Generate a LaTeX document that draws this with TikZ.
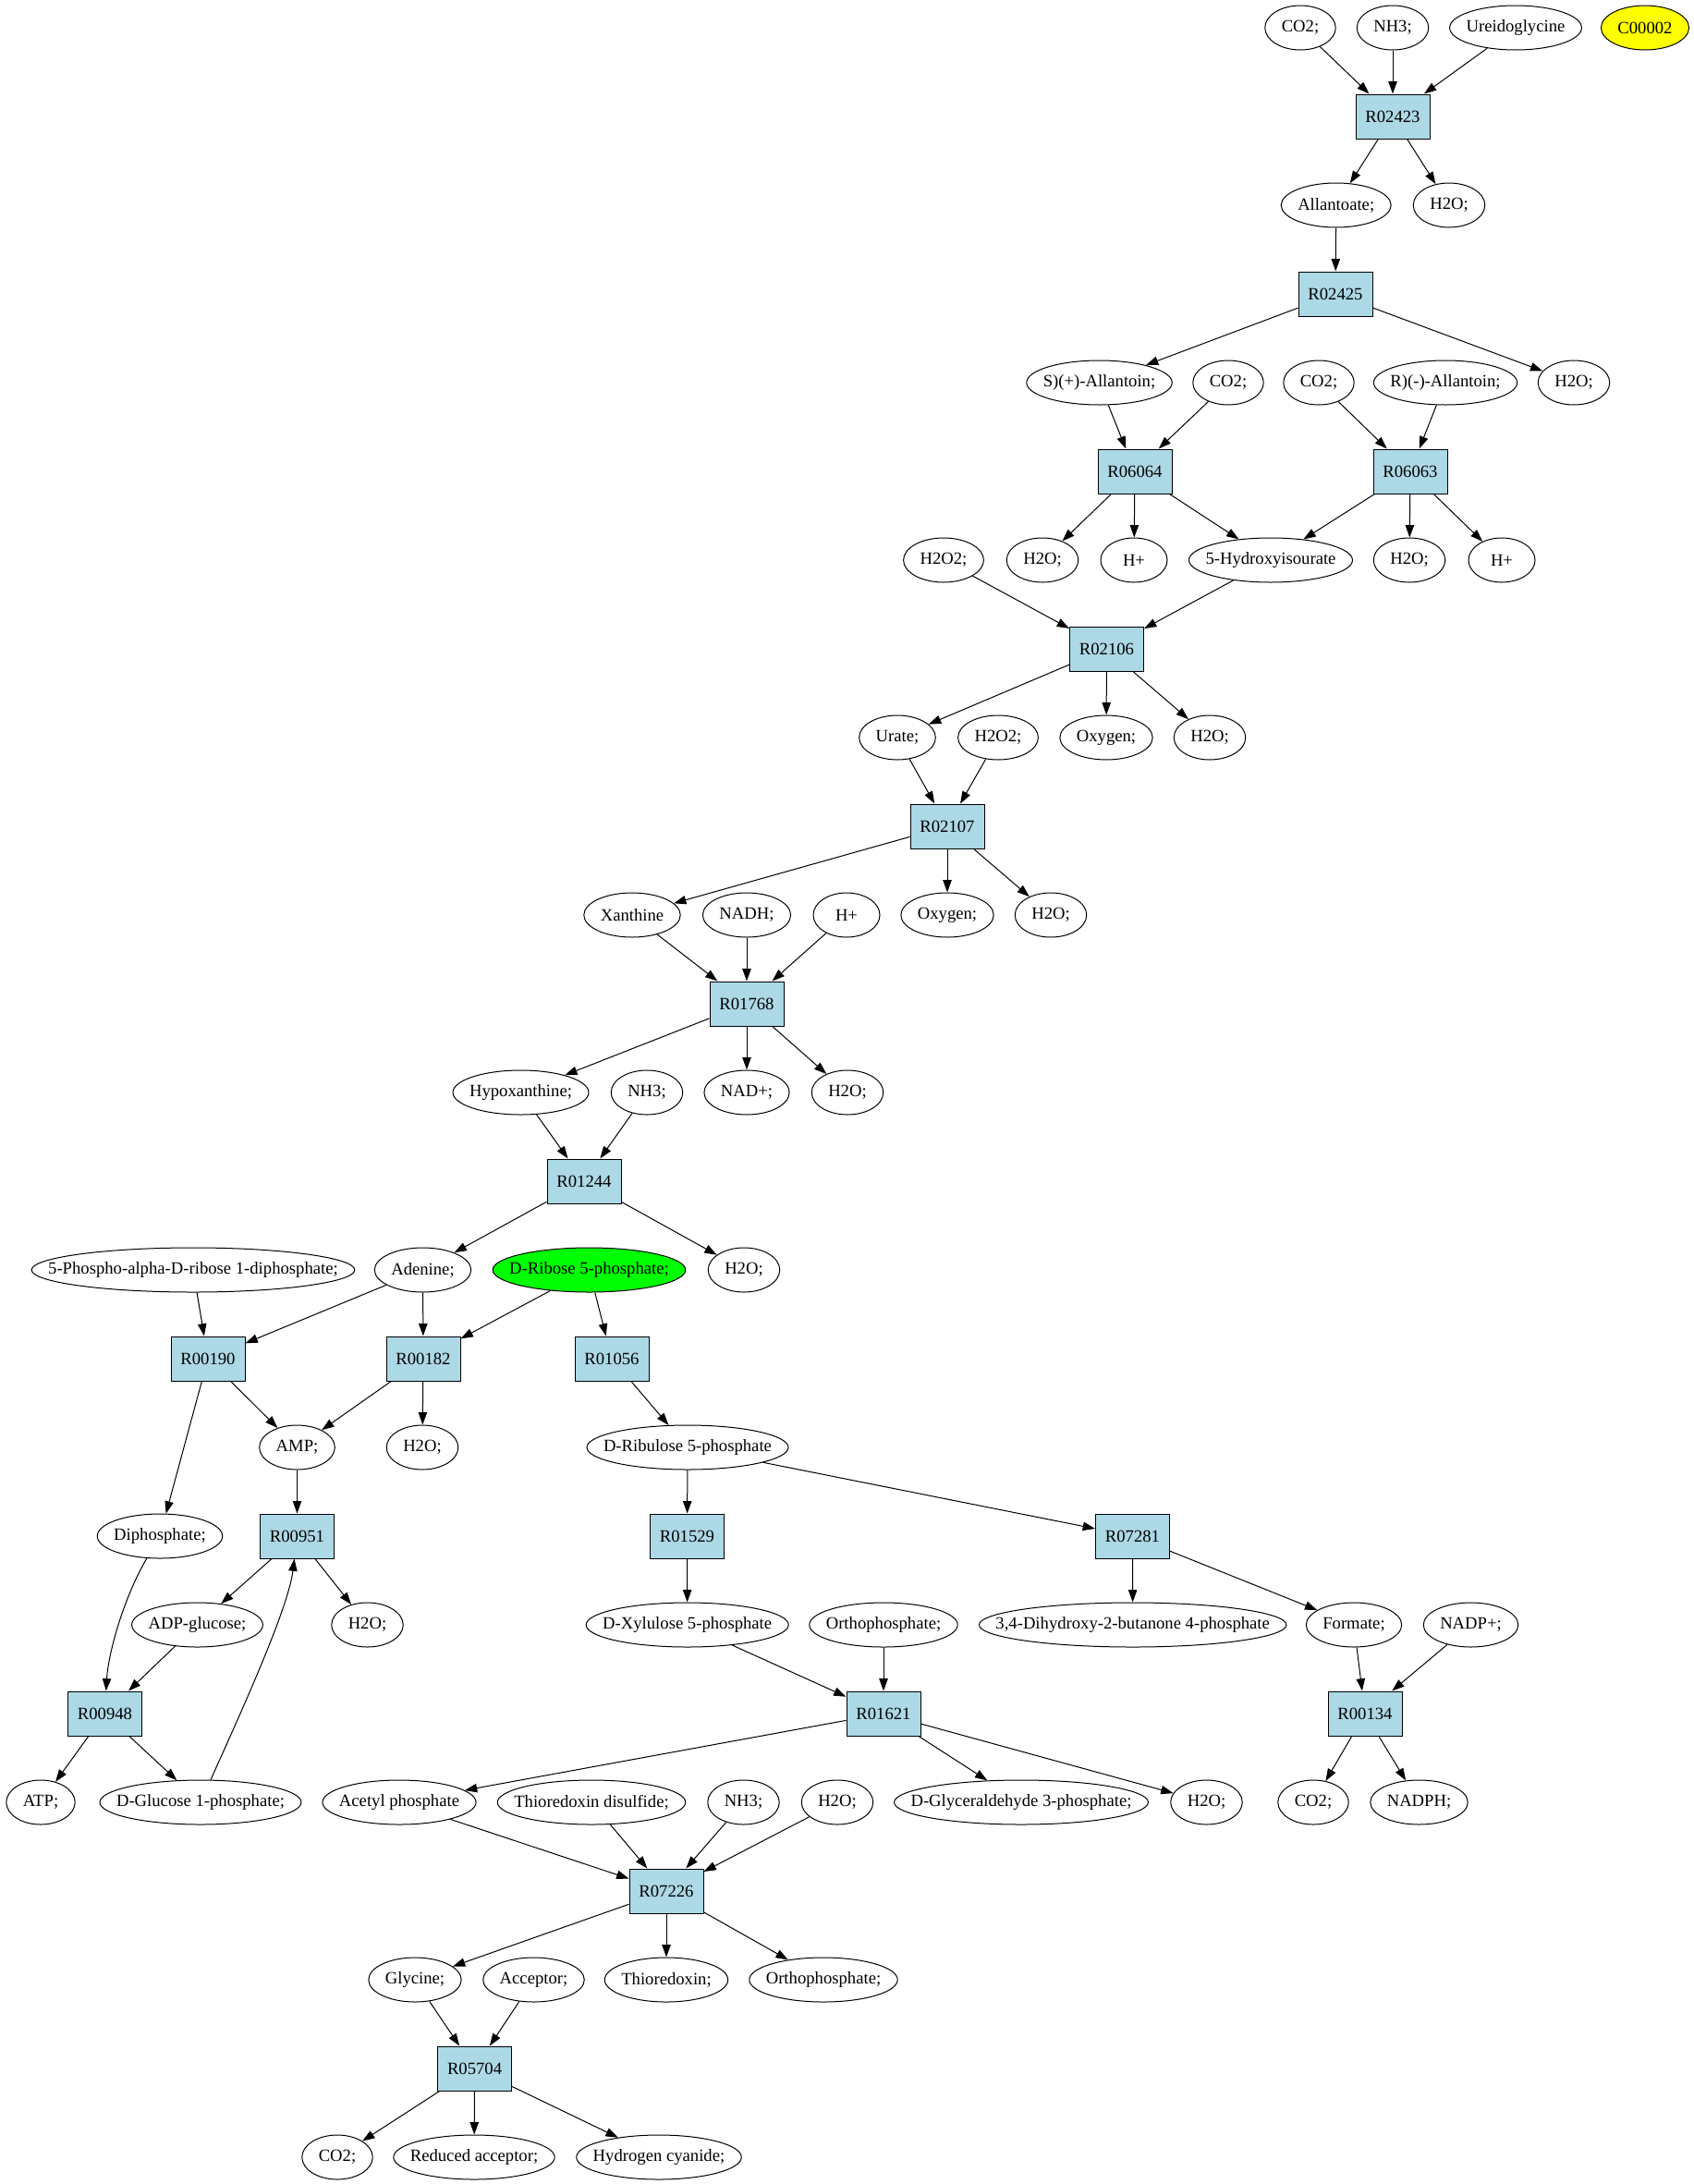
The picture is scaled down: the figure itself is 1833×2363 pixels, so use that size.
\documentclass[tikz,border=0pt]{standalone}
\usepackage{fontspec}
\setmainfont{Liberation Serif}
\usetikzlibrary{arrows.meta,shapes.geometric}
\definecolor{rxnblue}{HTML}{ADD8E6}
\definecolor{cpdyellow}{HTML}{FFFF00}
\definecolor{cpdgreen}{HTML}{00FF00}
\newlength\cpdw
\newlength\cpdwtmp
\newcommand\cpdfont{\fontsize{14pt}{16pt}\selectfont}
% measures the label inside the node (where the font is right) and sets the ellipse width
\newcommand\cpdtext[1]{%
  \settowidth\cpdwtmp{#1}%
  \global\cpdw=\dimexpr\cpdwtmp+27pt\relax
  \makebox[0pt]{#1}}
\newcommand\cpd[4][]{\node[cpd,minimum width={max(54pt,\cpdw)},#1] (#2) at (#3) {\cpdtext{#4}};}
\newcommand\rxn[3]{\node[rxn] (#1) at (#2) {#3};}
\tikzset{
  cpd/.style={ellipse, draw, line width=0.75pt, minimum height=36pt, inner sep=0pt, font=\cpdfont},
  rxn/.style={rectangle, draw, fill=rxnblue, line width=0.75pt, minimum width=60pt, minimum height=36pt, inner sep=0pt, font=\cpdfont},
  edge/.style={-{Triangle[length=10pt,width=7pt]}, line width=0.75pt}
}
\begin{document}
\begin{tikzpicture}[x=0.75pt,y=-0.75pt]
\useasboundingbox (0,0) rectangle (1833,2363);
\cpd{co2a}{1407,30}{CO2;}
\cpd{nh3a}{1507,30}{NH3;}
\cpd{ureid}{1640,30}{Ureidoglycine}
\cpd[fill=cpdyellow]{cz}{1780,30}{C00002}
\rxn{r02423}{1507,126}{R02423}
\cpd{allan}{1445.7,222}{Allantoate;}
\cpd{h2oa}{1568,222}{H2O;}
\rxn{r02425}{1445,318}{R02425}
\cpd{sall}{1189.5,414}{S)(+)-Allantoin;}
\cpd{co2b}{1329,414}{CO2;}
\cpd{co2c}{1427,414}{CO2;}
\cpd{rall}{1564,414}{R)(-)-Allantoin;}
\cpd{h2ob}{1703,414}{H2O;}
\rxn{r06064}{1228,510}{R06064}
\rxn{r06063}{1526,510}{R06063}
\cpd{h2o2a}{1021,606}{H2O2;}
\cpd{h2oc}{1128,606}{H2O;}
\cpd{hpa}{1227,606}{H+}
\cpd{hydroxy}{1375,606}{5-Hydroxyisourate}
\cpd{h2od}{1525,606}{H2O;}
\cpd{hpb}{1625,606}{H+}
\rxn{r02106}{1197.5,702}{R02106}
\cpd{urate}{971,798}{Urate;}
\cpd{h2o2b}{1080,798}{H2O2;}
\cpd{oxya}{1197,798}{Oxygen;}
\cpd{h2oe}{1309,798}{H2O;}
\rxn{r02107}{1025,894}{R02107}
\cpd{xanth}{684,990}{Xanthine}
\cpd{nadh}{808,990}{NADH;}
\cpd{hpc}{916,990}{H+}
\cpd{oxyb}{1025,990}{Oxygen;}
\cpd{h2of}{1137,990}{H2O;}
\rxn{r01768}{808,1086}{R01768}
\cpd{hypox}{563.5,1182}{Hypoxanthine;}
\cpd{nh3b}{700,1182}{NH3;}
\cpd{nadp}{808,1182}{NAD+;}
\cpd{h2og}{917,1182}{H2O;}
\rxn{r01244}{632,1278}{R01244}
\cpd{prpp}{209,1374}{5-Phospho-alpha-D-ribose 1-diphosphate;}
\cpd{aden}{457.5,1374}{Adenine;}
\cpd[fill=cpdgreen]{ribp}{637.5,1374}{D-Ribose 5-phosphate;}
\cpd{h2oh}{805,1374}{H2O;}
\rxn{r00190}{225,1470}{R00190}
\rxn{r00182}{458,1470}{R00182}
\rxn{r01056}{662,1470}{R01056}
\cpd{amp}{321.5,1566}{AMP;}
\cpd{h2oi}{457,1566}{H2O;}
\cpd{ribu}{744,1566}{D-Ribulose 5-phosphate}
\cpd{diph}{173,1662}{Diphosphate;}
\rxn{r00951}{321.5,1662}{R00951}
\rxn{r01529}{743.5,1662}{R01529}
\rxn{r07281}{1225.5,1662}{R07281}
\cpd{adpg}{213.5,1758}{ADP-glucose;}
\cpd{h2oj}{397.5,1758}{H2O;}
\cpd{xylu}{743.7,1758}{D-Xylulose 5-phosphate}
\cpd{orthoa}{956,1758}{Orthophosphate;}
\cpd{dhbp}{1225.7,1758}{3,4-Dihydroxy-2-butanone 4-phosphate}
\cpd{formate}{1465,1758}{Formate;}
\cpd{nadpp}{1591.5,1758}{NADP+;}
\rxn{r00948}{113.5,1854}{R00948}
\rxn{r01621}{956,1854}{R01621}
\rxn{r00134}{1477,1854}{R00134}
\cpd{atp}{44,1950}{ATP;}
\cpd{gonep}{217,1950}{D-Glucose 1-phosphate;}
\cpd{acp}{432,1950}{Acetyl phosphate}
\cpd{trxss}{640,1950}{Thioredoxin disulfide;}
\cpd{nh3c}{804.5,1950}{NH3;}
\cpd{h2ok}{906,1950}{H2O;}
\cpd{gap}{1105,1950}{D-Glyceraldehyde 3-phosphate;}
\cpd{h2ol}{1305.5,1950}{H2O;}
\cpd{co2d}{1421,1950}{CO2;}
\cpd{nadph}{1535.5,1950}{NADPH;}
\rxn{r07226}{721,2046}{R07226}
\cpd{gly}{449,2142}{Glycine;}
\cpd{acc}{577.5,2142}{Acceptor;}
\cpd{trx}{721,2142}{Thioredoxin;}
\cpd{orthob}{891,2142}{Orthophosphate;}
\rxn{r05704}{513.6,2238}{R05704}
\cpd{co2e}{365,2334}{CO2;}
\cpd{redacc}{513,2334}{Reduced acceptor;}
\cpd{hcn}{713,2334}{Hydrogen cyanide;}
% edges
\foreach \a/\b in {co2a/r02423, nh3a/r02423, ureid/r02423,
  r02423/allan, r02423/h2oa, allan/r02425,
  r02425/sall, r02425/h2ob,
  sall/r06064, co2b/r06064, co2c/r06063, rall/r06063,
  r06064/h2oc, r06064/hpa, r06064/hydroxy,
  r06063/hydroxy, r06063/h2od, r06063/hpb,
  h2o2a/r02106, hydroxy/r02106,
  r02106/urate, r02106/oxya, r02106/h2oe,
  urate/r02107, h2o2b/r02107,
  r02107/xanth, r02107/oxyb, r02107/h2of,
  xanth/r01768, nadh/r01768, hpc/r01768,
  r01768/hypox, r01768/nadp, r01768/h2og,
  hypox/r01244, nh3b/r01244,
  r01244/aden, r01244/h2oh,
  prpp/r00190, aden/r00190, aden/r00182, ribp/r00182, ribp/r01056,
  r00190/amp, r00190/diph, r00182/amp, r00182/h2oi, r01056/ribu,
  amp/r00951, ribu/r01529, ribu/r07281,
  r00951/adpg, r00951/h2oj, adpg/r00948,
  r01529/xylu, r07281/dhbp, r07281/formate,
  xylu/r01621, orthoa/r01621, formate/r00134, nadpp/r00134,
  r00948/atp, r00948/gonep,
  r01621/acp, r01621/gap, r01621/h2ol,
  r00134/co2d, r00134/nadph,
  acp/r07226, trxss/r07226, nh3c/r07226, h2ok/r07226,
  r07226/gly, r07226/trx, r07226/orthob,
  gly/r05704, acc/r05704,
  r05704/co2e, r05704/redacc, r05704/hcn}
  \draw[edge] (\a) -- (\b);
\draw[edge] (diph) .. controls (133,1730) and (117,1790) .. (r00948);
\draw[edge] (gonep) .. controls (262,1850) and (312,1740) .. (r00951);
\end{tikzpicture}
\end{document}
